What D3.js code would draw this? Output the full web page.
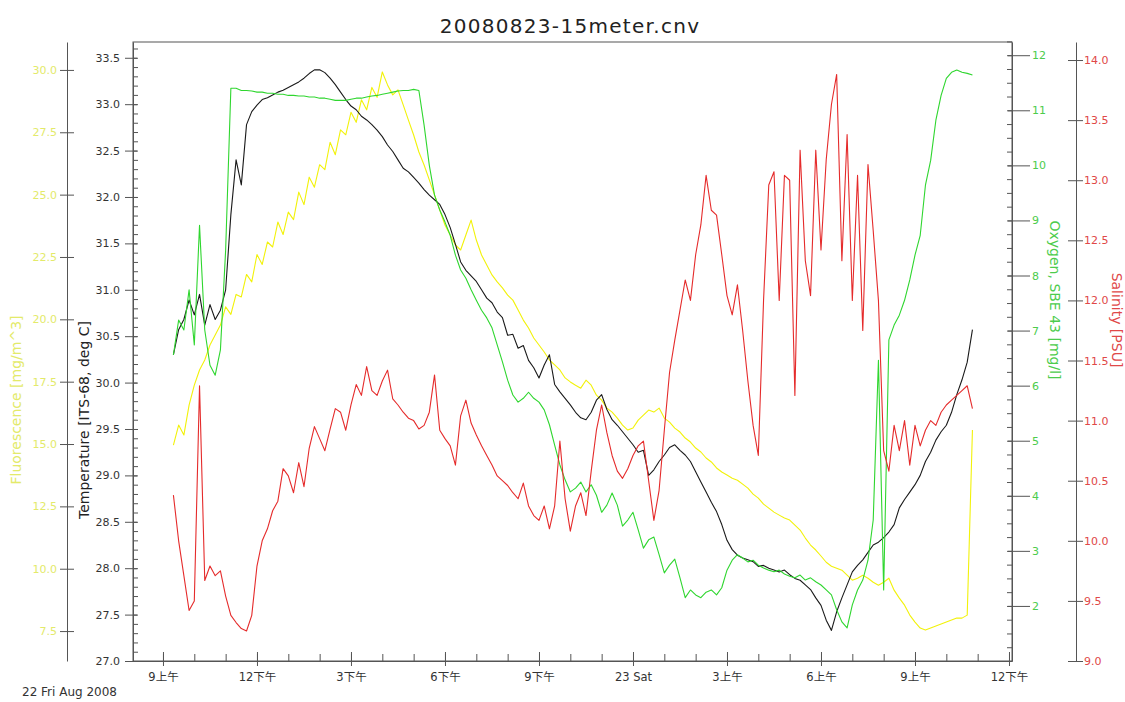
<!DOCTYPE html>
<html>
<head>
<meta charset="utf-8">
<script src="https://cdn.jsdelivr.net/npm/d3@7"></script>
<style>
  body { margin: 0; background: #fff; }
  svg { display: block; }
  text { font-family: "DejaVu Sans", sans-serif; }
</style>
</head>
<body>
<div id="chart"></div>
<script>
'use strict';

// ---- data ----
const title = '20080823-15meter.cnv';
const dateLabel = '22 Fri Aug 2008';
const startTime = new Date(2008, 7, 22, 9, 20);
const stepMinutes = 10;

const temperature = [
  30.30, 30.57, 30.68, 30.89, 30.73, 30.95, 30.62, 30.84, 30.68, 30.78,
  31.00, 31.81, 32.40, 32.13, 32.78, 32.92, 32.99, 33.05, 33.07, 33.10,
  33.13, 33.15, 33.18, 33.21, 33.24, 33.28, 33.33, 33.37, 33.37, 33.34,
  33.28, 33.21, 33.13, 33.05, 32.98, 32.94, 32.87, 32.83, 32.78, 32.72,
  32.65, 32.56, 32.49, 32.40, 32.31, 32.27, 32.21, 32.15, 32.08, 32.02,
  31.97, 31.92, 31.81, 31.67, 31.49, 31.30, 31.21, 31.15, 31.09, 31.00,
  30.91, 30.86, 30.76, 30.70, 30.51, 30.52, 30.37, 30.40, 30.24, 30.16,
  30.05, 30.19, 30.30, 29.98, 29.90, 29.83, 29.76, 29.68, 29.62, 29.60,
  29.68, 29.81, 29.87, 29.71, 29.60, 29.54, 29.47, 29.40, 29.33, 29.25,
  29.27, 29.00, 29.06, 29.15, 29.22, 29.30, 29.33, 29.27, 29.22, 29.15,
  29.04, 28.93, 28.82, 28.71, 28.61, 28.47, 28.30, 28.20, 28.14, 28.11,
  28.09, 28.07, 28.02, 28.03, 28.00, 27.98, 27.96, 27.98, 27.93, 27.89,
  27.87, 27.82, 27.77, 27.68, 27.60, 27.44, 27.33, 27.53, 27.68, 27.82,
  27.96, 28.03, 28.09, 28.17, 28.25, 28.28, 28.33, 28.39, 28.47, 28.65,
  28.74, 28.82, 28.90, 29.00, 29.15, 29.25, 29.38, 29.47, 29.54, 29.68,
  29.87, 30.03, 30.22, 30.57
];

const fluorescence = [
  14.96, 15.76, 15.36, 16.56, 17.36, 17.97, 18.37, 18.97, 19.37, 19.77,
  20.50, 20.20, 21.00, 20.90, 21.80, 21.50, 22.60, 22.20, 23.10, 22.90,
  23.90, 23.40, 24.30, 24.00, 25.10, 24.60, 25.70, 25.30, 26.20, 26.00,
  27.10, 26.60, 27.60, 27.40, 28.30, 27.90, 28.80, 28.40, 29.30, 28.90,
  29.92, 29.40, 29.00, 29.20, 28.60, 27.99, 27.39, 26.71, 26.19, 25.59,
  24.99, 24.38, 23.78, 23.38, 22.98, 22.78, 23.38, 23.98, 23.18, 22.58,
  22.18, 21.78, 21.50, 21.26, 20.97, 20.77, 20.37, 19.97, 19.65, 19.25,
  18.97, 18.69, 18.37, 18.17, 17.97, 17.65, 17.49, 17.36, 17.24, 17.56,
  17.36, 16.96, 16.76, 16.44, 16.28, 16.04, 15.76, 15.56, 15.64, 15.96,
  16.16, 16.36, 16.28, 16.44, 16.04, 15.88, 15.64, 15.48, 15.24, 15.08,
  14.84, 14.68, 14.44, 14.28, 14.04, 13.88, 13.76, 13.63, 13.55, 13.39,
  13.23, 12.99, 12.83, 12.59, 12.43, 12.27, 12.15, 12.03, 11.95, 11.75,
  11.55, 11.23, 10.95, 10.75, 10.51, 10.26, 10.10, 10.02, 9.94, 9.74,
  9.54, 9.62, 9.74, 9.62, 9.46, 9.34, 9.46, 9.62, 9.14, 8.82,
  8.54, 8.14, 7.86, 7.62, 7.54, 7.62, 7.70, 7.78, 7.86, 7.94,
  8.02, 8.02, 8.14, 15.56
];

const oxygen = [
  6.56, 7.19, 7.01, 7.74, 6.74, 8.91, 7.01, 6.37, 6.19, 6.65,
  8.46, 11.40, 11.40, 11.36, 11.36, 11.35, 11.33, 11.33, 11.31, 11.31,
  11.29, 11.29, 11.27, 11.27, 11.26, 11.26, 11.24, 11.24, 11.22, 11.22,
  11.20, 11.18, 11.18, 11.18, 11.20, 11.22, 11.22, 11.24, 11.26, 11.27,
  11.29, 11.31, 11.33, 11.35, 11.36, 11.36, 11.38, 11.36, 10.73, 10.00,
  9.46, 9.19, 8.97, 8.73, 8.37, 8.10, 7.95, 7.74, 7.55, 7.37,
  7.23, 7.05, 6.74, 6.43, 6.10, 5.83, 5.70, 5.77, 5.88, 5.77,
  5.70, 5.56, 5.29, 4.92, 4.56, 4.29, 4.07, 4.14, 4.25, 4.07,
  4.20, 4.01, 3.70, 3.83, 4.05, 3.83, 3.45, 3.56, 3.70, 3.38,
  3.05, 3.20, 3.25, 2.93, 2.60, 2.74, 2.85, 2.51, 2.15, 2.29,
  2.20, 2.15, 2.25, 2.29, 2.20, 2.33, 2.65, 2.83, 2.93, 2.87,
  2.80, 2.83, 2.74, 2.69, 2.65, 2.62, 2.65, 2.58, 2.54, 2.51,
  2.56, 2.47, 2.51, 2.44, 2.38, 2.29, 2.20, 1.93, 1.71, 1.60,
  2.02, 2.29, 2.47, 2.83, 3.56, 6.46, 2.29, 6.83, 7.10, 7.28,
  7.55, 7.92, 8.37, 8.73, 9.64, 10.09, 10.82, 11.27, 11.58, 11.69,
  11.73, 11.69, 11.67, 11.64
];

const salinity = [
  10.38, 10.00, 9.71, 9.42, 9.50, 11.29, 9.67, 9.79, 9.71, 9.75,
  9.54, 9.38, 9.32, 9.27, 9.25, 9.38, 9.79, 10.00, 10.10, 10.25,
  10.33, 10.60, 10.54, 10.40, 10.65, 10.45, 10.77, 10.95, 10.85, 10.75,
  10.93, 11.10, 11.07, 10.92, 11.13, 11.30, 11.21, 11.45, 11.25, 11.21,
  11.33, 11.42, 11.18, 11.13, 11.07, 11.02, 11.00, 10.93, 10.96, 11.07,
  11.38, 10.92, 10.85, 10.79, 10.63, 11.04, 11.17, 10.98, 10.88, 10.79,
  10.71, 10.63, 10.54, 10.50, 10.46, 10.40, 10.35, 10.48, 10.29, 10.21,
  10.17, 10.29, 10.10, 10.29, 10.83, 10.35, 10.08, 10.29, 10.40, 10.21,
  10.58, 10.92, 11.13, 10.90, 10.71, 10.58, 10.52, 10.60, 10.71, 10.79,
  10.83, 10.50, 10.17, 10.42, 10.92, 11.40, 11.67, 11.92, 12.17, 12.00,
  12.38, 12.63, 13.04, 12.75, 12.71, 12.38, 12.04, 11.88, 12.13, 11.75,
  11.33, 10.96, 10.71, 12.00, 12.96, 13.07, 12.00, 13.04, 13.00, 11.21,
  13.25, 12.33, 12.04, 13.25, 12.42, 13.17, 13.63, 13.88, 12.33, 13.38,
  12.00, 13.04, 11.75, 13.13, 12.58, 12.00, 10.75, 10.58, 10.96, 10.75,
  11.00, 10.63, 10.96, 10.79, 10.92, 11.00, 10.96, 11.07, 11.13, 11.17,
  11.21, 11.25, 11.29, 11.10
];

const tempTicks = [27.0, 27.5, 28.0, 28.5, 29.0, 29.5, 30.0, 30.5, 31.0, 31.5, 32.0, 32.5, 33.0, 33.5];
const fluoTicks = [7.5, 10.0, 12.5, 15.0, 17.5, 20.0, 22.5, 25.0, 27.5, 30.0];
const oxyTicks = [2, 3, 4, 5, 6, 7, 8, 9, 10, 11, 12];
const salTicks = [9.0, 9.5, 10.0, 10.5, 11.0, 11.5, 12.0, 12.5, 13.0, 13.5, 14.0];

const axisTitles = {
  fluo: 'Fluorescence [mg/m^3]',
  temp: 'Temperature [ITS-68, deg C]',
  oxy: 'Oxygen, SBE 43 [mg/l]',
  sal: 'Salinity [PSU]',
};

// ---- layout ----
const W = 1125;
const H = 702;
const plot = { left: 133, right: 1012, top: 42, bottom: 661 };
const colors = {
  temp: '#1a1a1a',
  fluo: '#f2f20a',
  oxy: '#2fd62f',
  sal: '#e52b2b',
  fluoText: '#e3ea6a',
  oxyText: '#4ccc4c',
  salText: '#e04848',
  axis: '#555',
};

const times = temperature.map((d, i) =>
  d3.timeMinute.offset(startTime, i * stepMinutes)
);

const x = d3
  .scaleTime()
  .domain([new Date(2008, 7, 22, 8, 2, 36), new Date(2008, 7, 23, 12, 5, 45)])
  .range([plot.left, plot.right]);

const yTemp = d3.scaleLinear().domain([27, 33.67]).range([plot.bottom, plot.top]);
const yFluo = d3.scaleLinear().domain([6.30, 31.12]).range([plot.bottom, plot.top]);
const yOxy = d3.scaleLinear().domain([1.0, 12.24]).range([plot.bottom, plot.top]);
const ySal = d3.scaleLinear().domain([9.0, 14.15]).range([plot.bottom, plot.top]);

const svg = d3
  .select('#chart')
  .append('svg')
  .attr('width', W)
  .attr('height', H);

// title
svg
  .append('text')
  .attr('x', 570)
  .attr('y', 33)
  .attr('text-anchor', 'middle')
  .style('font-size', '20px')
  .style('letter-spacing', '1.3px')
  .attr('fill', '#222')
  .text(title);

// plot frame
svg
  .append('rect')
  .attr('x', plot.left)
  .attr('y', plot.top)
  .attr('width', plot.right - plot.left)
  .attr('height', plot.bottom - plot.top)
  .attr('fill', 'none')
  .attr('stroke', colors.axis);

const styleAxis = (g, textColor, fontSize) => {
  g.selectAll('.domain').attr('stroke', colors.axis);
  g.selectAll('.tick line').attr('stroke', colors.axis);
  g.selectAll('.tick text')
    .attr('fill', textColor)
    .style('font-size', fontSize || '11px')
    .style('font-family', '"DejaVu Sans", sans-serif');
};

// temperature axis (plot left edge)
const gTemp = svg
  .append('g')
  .attr('transform', `translate(${plot.left},0)`)
  .call(
    d3.axisLeft(yTemp).tickValues(tempTicks).tickFormat(d3.format('.1f'))
      .tickSize(8).tickSizeOuter(0).tickPadding(5)
  );
gTemp.selectAll('.tick line').attr('x1', 4);
styleAxis(gTemp, '#333');
const gTempMinor = svg
  .append('g')
  .attr('transform', `translate(${plot.left},0)`)
  .call(
    d3.axisLeft(yTemp).tickValues(d3.range(27, 33.65, 0.1))
      .tickSize(-5).tickSizeOuter(0).tickFormat('')
  );
gTempMinor.select('.domain').remove();
styleAxis(gTempMinor, '#333');

// fluorescence axis (outer left)
const gFluo = svg
  .append('g')
  .attr('transform', 'translate(67,0)')
  .call(
    d3.axisLeft(yFluo).tickValues(fluoTicks).tickFormat(d3.format('.1f'))
      .tickSize(7).tickSizeOuter(0).tickPadding(3)
  );
gFluo.selectAll('.tick line').attr('x1', 7);
styleAxis(gFluo, colors.fluoText);

// oxygen axis (plot right edge)
const gOxy = svg
  .append('g')
  .attr('transform', `translate(${plot.right},0)`)
  .call(
    d3.axisRight(yOxy).tickValues(oxyTicks).tickFormat(d3.format('d'))
      .tickSize(18).tickSizeOuter(0).tickPadding(2)
  );
gOxy.selectAll('.tick line').attr('x1', -4);
styleAxis(gOxy, colors.oxyText);
const gOxyMinor = svg
  .append('g')
  .attr('transform', `translate(${plot.right},0)`)
  .call(
    d3.axisRight(yOxy).tickValues(d3.range(1, 12.3, 0.25))
      .tickSize(-5).tickSizeOuter(0).tickFormat('')
  );
gOxyMinor.select('.domain').remove();
styleAxis(gOxyMinor, colors.oxyText);

// salinity axis (outer right)
const gSal = svg
  .append('g')
  .attr('transform', 'translate(1076,0)')
  .call(
    d3.axisRight(ySal).tickValues(salTicks).tickFormat(d3.format('.1f'))
      .tickSize(7).tickSizeOuter(0).tickPadding(1)
  );
gSal.selectAll('.tick line').attr('x1', -8);
styleAxis(gSal, colors.salText);

// time axis
const hourLabel = (d) => {
  const h = d.getHours();
  if (h === 0) return d3.timeFormat('%d %a')(d);
  return (h % 12 || 12) + (h < 12 ? '上午' : '下午');
};
const gTime = svg
  .append('g')
  .attr('transform', `translate(0,${plot.bottom})`)
  .call(
    d3.axisBottom(x).ticks(d3.timeHour.every(3)).tickFormat(hourLabel)
      .tickSize(5).tickSizeOuter(0).tickPadding(7)
  );
gTime.selectAll('.tick line').attr('y1', -9);
styleAxis(gTime, '#333', '11.5px');
gTime.selectAll('.tick text')
  .style('font-family', '"DejaVu Sans", "Noto Sans CJK SC", sans-serif');
const gTimeMinor = svg
  .append('g')
  .attr('transform', `translate(0,${plot.bottom})`)
  .call(
    d3.axisBottom(x).ticks(d3.timeHour.every(1)).tickSize(-7)
      .tickSizeOuter(0).tickFormat('')
  );
gTimeMinor.select('.domain').remove();
styleAxis(gTimeMinor, '#333');

// axis titles
const addTitle = (txt, tx, ty, angle, color) =>
  svg
    .append('text')
    .attr('transform', `translate(${tx},${ty}) rotate(${angle})`)
    .attr('text-anchor', 'middle')
    .style('font-size', '14px')
    .attr('fill', color)
    .text(txt);

addTitle(axisTitles.fluo, 21, 400, -90, colors.fluoText);
addTitle(axisTitles.temp, 89, 420, -90, '#222');
addTitle(axisTitles.oxy, 1050, 300, 90, colors.oxyText);
addTitle(axisTitles.sal, 1112, 320, 90, colors.salText);

// date label
svg
  .append('text')
  .attr('x', 22)
  .attr('y', 696)
  .style('font-size', '12px')
  .attr('fill', '#333')
  .text(dateLabel);

// series
const series = [
  { values: fluorescence, y: yFluo, color: colors.fluo },
  { values: temperature, y: yTemp, color: colors.temp },
  { values: oxygen, y: yOxy, color: colors.oxy },
  { values: salinity, y: ySal, color: colors.sal },
];

series.forEach((s) => {
  const line = d3
    .line()
    .x((d, i) => x(times[i]))
    .y((d) => s.y(d));
  svg
    .append('path')
    .datum(s.values)
    .attr('d', line)
    .attr('fill', 'none')
    .attr('stroke', s.color)
    .attr('stroke-width', 1.1)
    .attr('stroke-linejoin', 'round');
});
</script>
</body>
</html>
